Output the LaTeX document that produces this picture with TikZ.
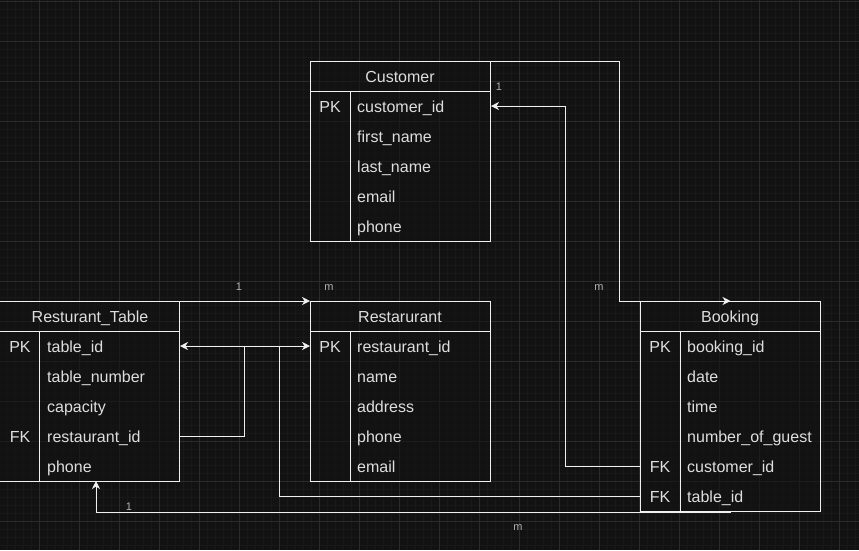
\documentclass[tikz,border=0pt]{standalone}
\usepackage{fontspec}
\setmainfont{Liberation Sans}
\usetikzlibrary{arrows.meta}

\definecolor{canvas}{HTML}{121212}
\definecolor{gridmin}{HTML}{191919}
\definecolor{gridmaj}{HTML}{2B2B2B}
\definecolor{edge}{HTML}{F0F0F0}
\definecolor{ink}{HTML}{DEDEDE}
\definecolor{card}{HTML}{B0B0B0}

\begin{document}
\begin{tikzpicture}[x=1pt, y=-1pt,
    table/.style={draw=edge, line width=1pt, fill=canvas, fill opacity=0.6, inner sep=0pt, minimum width=180pt},
    rule/.style={draw=edge, line width=1pt},
    title/.style={anchor=center, inner sep=0pt, text height=15pt, text depth=2pt, text=ink, font=\fontsize{16}{19}\selectfont},
    keytag/.style={title},
    field/.style={title, anchor=west},
    cardi/.style={anchor=center, inner sep=0pt, text height=8pt, text depth=0pt, text=card, font=\fontsize{11}{13}\selectfont},
    rel/.style={draw=edge, line width=1pt, -{Stealth[length=8pt, width=8pt, inset=2.5pt]}}]
  \useasboundingbox (0,0) rectangle (859,550);
  \fill[canvas] (0,0) rectangle (859,550);

  % grid
  \foreach \gx in {-0.5,7.5,...,863.5} \draw[gridmin, line width=1pt] (\gx,0) -- (\gx,550);
  \foreach \gy in {1.5,9.5,...,553.5} \draw[gridmin, line width=1pt] (0,\gy) -- (859,\gy);
  \foreach \gx in {-0.5,39.5,...,879.5} \draw[gridmaj, line width=1pt] (\gx,0) -- (\gx,550);
  \foreach \gy in {1.5,41.5,...,561.5} \draw[gridmaj, line width=1pt] (0,\gy) -- (859,\gy);

  % Customer
  \node[table, anchor=north west, minimum height=180pt] (cust) at (310,61) {};
  \draw[rule] ([yshift=-30pt]cust.north west) -- ([yshift=-30pt]cust.north east);
  \draw[rule] ([xshift=40pt,yshift=-30pt]cust.north west) -- ([xshift=40pt]cust.south west);
  \node[title] (cuHead) at (400,76) {Customer};
  \node[keytag] (cuPK) at (330,106) {PK};
  \node[field] (cuId) at (357,106) {customer\_id};
  \node[field] (cuFirst) at (357,136) {first\_name};
  \node[field] (cuLast) at (357,166) {last\_name};
  \node[field] (cuMail) at (357,196) {email};
  \node[field] (cuPhone) at (357,226) {phone};

  % Restarurant
  \node[table, anchor=north west, minimum height=180pt] (rest) at (310,301) {};
  \draw[rule] ([yshift=-30pt]rest.north west) -- ([yshift=-30pt]rest.north east);
  \draw[rule] ([xshift=40pt,yshift=-30pt]rest.north west) -- ([xshift=40pt]rest.south west);
  \node[title] (rsHead) at (400,316) {Restarurant};
  \node[keytag] (rsPK) at (330,346) {PK};
  \node[field] (rsId) at (357,346) {restaurant\_id};
  \node[field] (rsName) at (357,376) {name};
  \node[field] (rsAddr) at (357,406) {address};
  \node[field] (rsPhone) at (357,436) {phone};
  \node[field] (rsMail) at (357,466) {email};

  % Resturant_Table
  \node[table, anchor=north east, minimum height=180pt] (rt) at (180,301) {};
  \draw[rule] ([yshift=-30pt]rt.north west) -- ([yshift=-30pt]rt.north east);
  \draw[rule] ([xshift=40pt,yshift=-30pt]rt.north west) -- ([xshift=40pt]rt.south west);
  \node[title] (rtHead) at (90,316) {Resturant\_Table};
  \node[keytag] (rtPK) at (20,346) {PK};
  \node[field] (rtId) at (47,346) {table\_id};
  \node[field] (rtNum) at (47,376) {table\_number};
  \node[field] (rtCap) at (47,406) {capacity};
  \node[keytag] (rtFK) at (20,436) {FK};
  \node[field] (rtRid) at (47,436) {restaurant\_id};
  \node[field] (rtPhone) at (47,466) {phone};

  % Booking
  \node[table, anchor=north west, minimum height=210pt] (book) at (640,301) {};
  \draw[rule] ([yshift=-30pt]book.north west) -- ([yshift=-30pt]book.north east);
  \draw[rule] ([xshift=40pt,yshift=-30pt]book.north west) -- ([xshift=40pt]book.south west);
  \node[title] (bkHead) at (730,316) {Booking};
  \node[keytag] (bkPK) at (660,346) {PK};
  \node[field] (bkId) at (687,346) {booking\_id};
  \node[field] (bkDate) at (687,376) {date};
  \node[field] (bkTime) at (687,406) {time};
  \node[field] (bkGuest) at (687,436) {number\_of\_guest};
  \node[keytag] (bkFKc) at (660,466) {FK};
  \node[field] (bkCust) at (687,466) {customer\_id};
  \node[keytag] (bkFKt) at (660,496) {FK};
  \node[field] (bkTid) at (687,496) {table\_id};

  % relations
  \coordinate (cuBend) at (619,61);
  \draw[rel] (cust.north east) -- (cuBend) |- (book.north);
  \coordinate (bkBend) at (565,106);
  \draw[rel] (book.west |- bkCust) -| (bkBend) -- (cust.east |- cuId);
  \draw[rel] (rt.north east) -- (rest.north west);
  \coordinate (rtBend) at (244,346);
  \draw[rel] (rt.east |- rtRid) -| (rtBend) -- (rest.west |- rsId);
  \coordinate (tbBend) at (279,346);
  \draw[rel] (book.west |- bkTid) -| (tbBend) -- (rt.east |- rtId);
  \coordinate (rtFoot) at (96,481);
  \draw[rel] (book.south) -| (rtFoot);

  % cardinalities
  \node[cardi] (cuOne) at (499,86) {1};
  \node[cardi] (bkMany) at (599,286) {m};
  \node[cardi] (rtOne) at (239,286) {1};
  \node[cardi] (rsMany) at (329,286) {m};
  \node[cardi] (ftOne) at (129,506) {1};
  \node[cardi] (ftMany) at (518,526) {m};
\end{tikzpicture}
\end{document}
